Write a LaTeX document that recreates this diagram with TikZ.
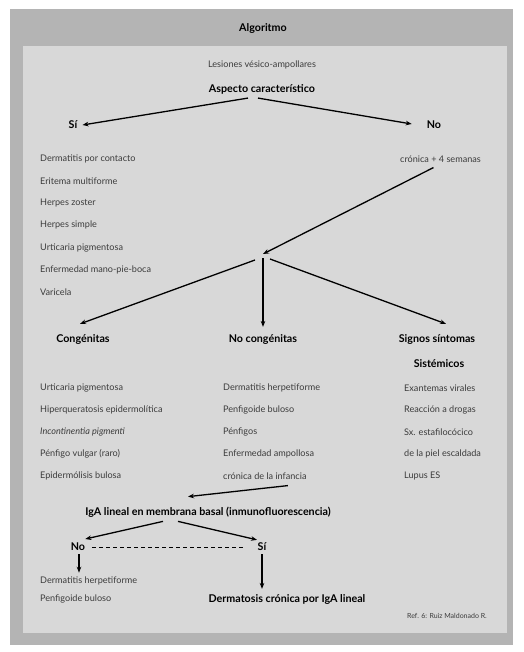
\documentclass[tikz,border=0pt]{standalone}
\usepackage{fontspec}
\setmainfont{Lato}
\usetikzlibrary{arrows.meta,calc}
\definecolor{outerg}{HTML}{B4B4B4}
\definecolor{innerg}{HTML}{D8D8D8}
\definecolor{txtg}{HTML}{3C3C3C}
\begin{document}
\begin{tikzpicture}[x=1pt,y=-1pt,
  txt/.style={font=\fontsize{9.1}{11}\selectfont, text=txtg, inner sep=1pt},
  ltxt/.style={txt, anchor=west},
  hd/.style={font=\bfseries\fontsize{10.7}{12}\selectfont, text=black, inner sep=1pt},
  arr/.style={-{Stealth[length=6pt,width=4.6pt]}, line width=1.3pt, black},
]
\useasboundingbox (0,0) rectangle (523,652);
\fill[white] (0,0) rectangle (523,652);
\fill[outerg] (10,9) rectangle (513,645);
\fill[innerg] (23,46) rectangle (507,633);

\node[hd] (title) at (263,28) {Algoritmo};
\node[txt] (les) at (262,65) {Lesiones vésico-ampollares};
\node[hd] (asp) at (262,89) {Aspecto característico};
\node[hd] (si1) at (73,125) {Sí};
\node[hd] (no1) at (434,125) {No};

\node[ltxt] (l1) at (39,159) {Dermatitis por contacto};
\node[ltxt] (l2) at (39,181) {Eritema multiforme};
\node[ltxt] (l3) at (39,203) {Herpes zoster};
\node[ltxt] (l4) at (39,225) {Herpes simple};
\node[ltxt] (l5) at (39,248) {Urticaria pigmentosa};
\node[ltxt] (l6) at (39,270) {Enfermedad mano-pie-boca};
\node[ltxt] (l7) at (39,292) {Varicela};

\node[txt, anchor=east] (cron) at (482,159) {crónica + 4 semanas};
\coordinate (j) at (263,254);

\node[hd] (cong) at (83,339) {Congénitas};
\node[hd] (nocong) at (263,339) {No congénitas};
\node[hd] (signos) at (437,339) {Signos síntomas};
\node[hd] (sist) at (439,364) {Sistémicos};

\node[ltxt] (c1) at (39,388) {Urticaria pigmentosa};
\node[ltxt] (c2) at (39,410) {Hiperqueratosis epidermolítica};
\node[ltxt] (c3) at (39,432) {\itshape Incontinentia pigmenti};
\node[ltxt] (c4) at (39,454) {Pénfigo vulgar (raro)};
\node[ltxt] (c5) at (39,476) {Epidermólisis bulosa};

\node[ltxt] (n1) at (222,388) {Dermatitis herpetiforme};
\node[ltxt] (n2) at (222,410) {Penfigoide buloso};
\node[ltxt] (n3) at (222,432) {Pénfigos};
\node[ltxt] (n4) at (222,454) {Enfermedad ampollosa};
\node[ltxt] (n5) at (222,476) {crónica de la infancia};

\node[ltxt] (s1) at (403,388) {Exantemas virales};
\node[ltxt] (s2) at (403,410) {Reacción a drogas};
\node[ltxt] (s3) at (403,432) {Sx. estafilocócico};
\node[ltxt] (s4) at (403,454) {de la piel escaldada};
\node[ltxt] (s5) at (403,476) {Lupus ES};

\node[hd] (iga) at (208,512) {IgA lineal en membrana basal (inmunofluorescencia)};
\node[hd] (no2) at (78,547) {No};
\node[hd] (si2) at (262,547) {Sí};
\node[ltxt] (d1) at (39,581) {Dermatitis herpetiforme};
\node[ltxt] (d2) at (39,599) {Penfigoide buloso};
\node[hd] (dcr) at (287,599) {Dermatosis crónica por IgA lineal};
\node[txt, anchor=east, font=\fontsize{7}{8}\selectfont] (ref) at (488,616) {Ref. 6: Ruiz Maldonado R.};

% connectors
\draw[arr] ($(asp.south)+(-14,3)$) -- ($(si1.east)+(4,0)$);
\draw[arr] ($(asp.south)+(-4,3)$) -- ($(no1.west)+(-14,-1)$);
\draw[arr] ($(cron.south)+(-7,4)$) -- (j);
\draw[arr] ($(j)+(-8,6)$) -- ($(cong.north)+(-3,-9)$);
\draw[arr] ($(j)+(0,4)$) -- ($(nocong.north)+(0,-6)$);
\draw[arr] ($(j)+(7,5)$) -- ($(signos.north)+(9,-9)$);
\draw[arr] ($(n5.south)+(23,5)$) -- ($(iga.north)+(-20,-9)$);
\draw[arr] ($(iga.south)+(-45,3)$) -- ($(no2.east)+(-1,-8)$);
\draw[arr] ($(iga.south)+(-30,3)$) -- ($(si2.north)+(-5,-2)$);
\draw[line width=1pt, dash pattern=on 4pt off 3pt] ($(no2.east)+(6,0)$) -- ($(si2.west)+(-12,0)$);
\draw[arr] ($(no2.south)+(1,2)$) -- ($(d1.north west)+(40,-3)$);
\draw[arr] ($(si2.south)+(0,2)$) -- ($(dcr.north)+(-25,-4)$);
\end{tikzpicture}
\end{document}
